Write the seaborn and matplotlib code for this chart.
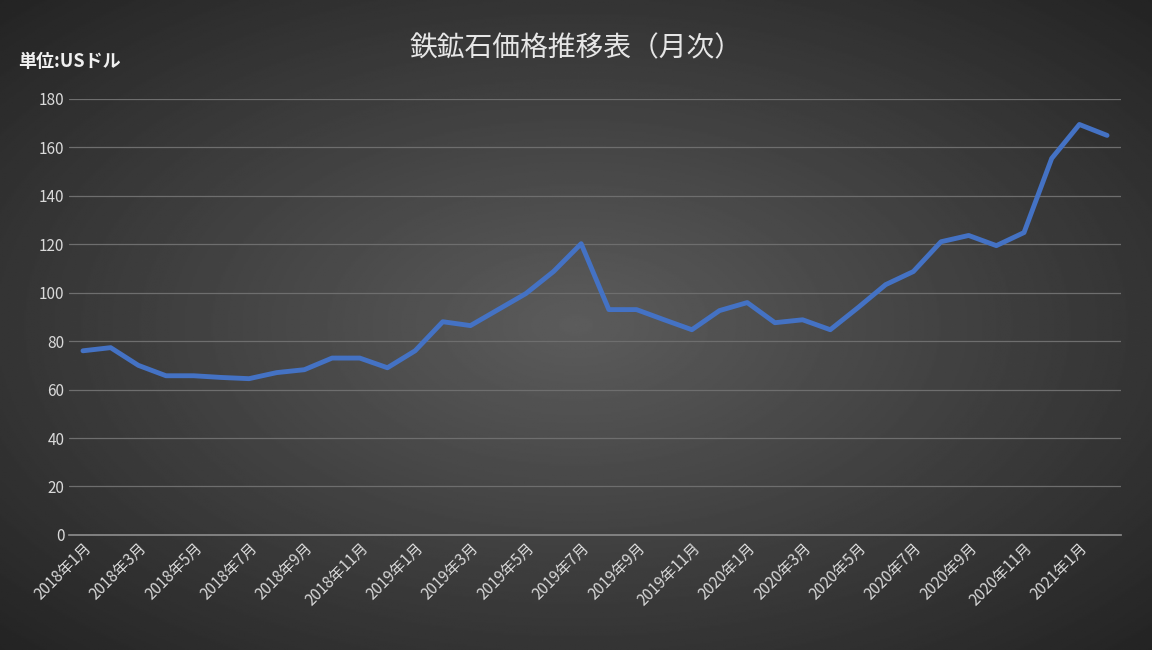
import numpy as np
import pandas as pd
import matplotlib.pyplot as plt
import seaborn as sns

sns.set_theme(style="white")
plt.rcParams['font.family'] = ['Noto Sans CJK JP', 'DejaVu Sans']

months = [f"{y}年{m}月" for y, m in
          [(2018, i) for i in range(1, 13)] + [(2019, i) for i in range(1, 13)] +
          [(2020, i) for i in range(1, 13)] + [(2021, 1), (2021, 2)]]
prices = [76, 77.3, 70, 65.7, 65.7, 65, 64.5, 67, 68.2, 73, 73, 69,
          76, 88, 86.4, 93, 99.6, 108.7, 120.2, 93, 93, 88.8, 84.7, 92.6,
          95.9, 87.6, 88.8, 84.7, 93.8, 103.3, 108.7, 121, 123.6, 119.4, 124.8, 155.4,
          169.4, 164.9]
df = pd.DataFrame({"idx": range(len(months)), "price": prices})

fig = plt.figure(figsize=(11.52, 6.5), dpi=100)

# radial gradient background
bg = fig.add_axes([0, 0, 1, 1], zorder=0)
yy, xx = np.mgrid[-1:1:400j, -1:1:700j]
r = np.sqrt(xx**2 + yy**2) / np.sqrt(2)
bg.imshow(0.36 - 0.22 * r, cmap="gray", vmin=0, vmax=1, aspect="auto", extent=[0, 1, 0, 1])
bg.axis("off")

ax = fig.add_axes([0.06, 0.177, 0.913, 0.671], zorder=1)
ax.patch.set_alpha(0)
sns.lineplot(data=df, x="idx", y="price", ax=ax, color="#4472C4", linewidth=3.5)

ax.set_xlim(-0.5, len(months) - 0.5)
ax.set_ylim(0, 180)
ax.set_yticks(range(0, 181, 20))
ax.set_xticks(range(0, len(months), 2))
ax.set_xticklabels(months[::2], rotation=45, ha="right", rotation_mode="anchor")
ax.tick_params(colors="#d9d9d9", labelsize=11, length=0)
ax.grid(axis="y", color="#6e6e6e", linewidth=0.9)
for s in ["top", "right", "left"]:
    ax.spines[s].set_visible(False)
ax.spines["bottom"].set_color("#8a8a8a")
ax.set_xlabel("")
ax.set_ylabel("")

fig.text(0.5, 0.925, "鉄鉱石価格推移表（月次）", ha="center", va="center",
         color="#e6e6e6", fontsize=20)
fig.text(0.016, 0.905, "単位:USドル", ha="left", va="center",
         color="#f0f0f0", fontsize=13, fontweight="bold")

fig.savefig("out.png", dpi=100)
